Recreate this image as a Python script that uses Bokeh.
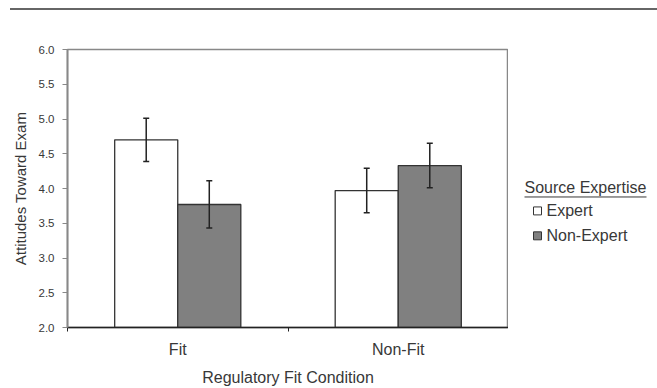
from bokeh.plotting import figure
from bokeh.models import (ColumnDataSource, Whisker, TeeHead, Div, FixedTicker, Range1d)
from bokeh.layouts import column, row
from bokeh.core.properties import value
from bokeh.embed import file_html
from bokeh.resources import INLINE

conditions = ["Fit", "Non-Fit"]
series_names = ["Expert", "Non-Expert"]
legend_title = "Source Expertise"
expert = [4.70, 3.97]
expert_err = [0.31, 0.32]
nonexpert = [3.77, 4.33]
nonexpert_err = [0.34, 0.32]
y_ticks = [2.0, 2.5, 3.0, 3.5, 4.0, 4.5, 5.0, 5.5, 6.0]

FONT = "Liberation Sans"
TXT = "#383838"
BW = 0.286
FILLS = ["white", "#808080"]
EDGE = "#333333"

p = figure(width=508, height=378, output_backend="svg", toolbar_location=None,
           x_range=Range1d(0, len(conditions)), y_range=Range1d(2.0, 6.0),
           min_border_left=67, min_border_right=0, min_border_top=39, min_border_bottom=60)
p.outline_line_color = "#888888"
p.outline_line_width = 1.5
p.xgrid.visible = False
p.ygrid.visible = False

xe = [i + 0.5 - BW / 2 for i in range(len(conditions))]
xn = [i + 0.5 + BW / 2 for i in range(len(conditions))]
src_e = ColumnDataSource(dict(x=xe, top=expert, lo=[v - e for v, e in zip(expert, expert_err)],
                              hi=[v + e for v, e in zip(expert, expert_err)]))
src_n = ColumnDataSource(dict(x=xn, top=nonexpert, lo=[v - e for v, e in zip(nonexpert, nonexpert_err)],
                              hi=[v + e for v, e in zip(nonexpert, nonexpert_err)]))

p.vbar(x="x", top="top", bottom=2.0, width=BW, source=src_e, fill_color=FILLS[0],
       line_color=EDGE, line_width=1.3)
p.vbar(x="x", top="top", bottom=2.0, width=BW, source=src_n, fill_color=FILLS[1],
       line_color=EDGE, line_width=1.3)

for s in (src_e, src_n):
    w = Whisker(source=s, base="x", lower="lo", upper="hi", line_color="#222222", line_width=1.5,
                level="overlay",
                upper_head=TeeHead(size=6, line_color="#222222", line_width=1.5),
                lower_head=TeeHead(size=6, line_color="#222222", line_width=1.5))
    p.add_layout(w)

xa = p.xaxis[0]
xa.ticker = FixedTicker(ticks=[i + 0.5 for i in range(len(conditions))],
                        minor_ticks=list(range(len(conditions) + 1)))
xa.major_label_overrides = {i + 0.5: c for i, c in enumerate(conditions)}
xa.major_tick_line_color = None
xa.major_tick_out = 4
xa.major_tick_in = 0
xa.minor_tick_out = 4
xa.minor_tick_in = 0
xa.minor_tick_line_color = "#222222"
xa.axis_line_color = "#222222"
xa.axis_line_width = 1.3
xa.major_label_standoff = 9
xa.axis_label = "Regulatory Fit Condition"
xa.axis_label_standoff = 8
xa.axis_label_text_font_style = "normal"

ya = p.yaxis[0]
ya.ticker = FixedTicker(ticks=y_ticks, minor_ticks=[])
ya.major_label_overrides = {t: f"{t:.1f}" for t in y_ticks}
ya.major_tick_out = 5
ya.major_tick_in = 0
ya.major_tick_line_color = "#888888"
ya.axis_line_color = "#888888"
ya.axis_line_width = 1.8
ya.major_label_standoff = 8
ya.axis_label = "Attitudes Toward Exam"
ya.axis_label_standoff = 7
ya.axis_label_text_font_style = "normal"

for ax in (xa, ya):
    ax.major_label_text_font = FONT
    ax.major_label_text_color = TXT
    ax.axis_label_text_font = FONT
    ax.axis_label_text_color = TXT
xa.axis_label_text_font_size = "16px"
ya.axis_label_text_font_size = "15px"
xa.major_label_text_font_size = "16px"
ya.major_label_text_font_size = "11.5px"

# legend panel: its own figure whose frame is aligned with the main frame;
# its ranges are expressed in page pixels
lg = figure(width=149, height=378, output_backend="svg", toolbar_location=None,
            x_range=Range1d(508, 657), y_range=Range1d(328, 49),
            min_border=0, outline_line_color=None)
lg.axis.visible = False
lg.grid.visible = False

lg.text(x=[524], y=[187.5], text=[legend_title], text_font=value(FONT), text_font_size="16px",
        text_color=TXT, text_baseline="middle", text_align="left")
lg.segment(x0=[524], y0=[197], x1=[646], y1=[197], line_color=TXT, line_width=1)
lg.rect(x=[537, 537], y=[211, 236], width=8, height=8, fill_color=FILLS,
        line_color=EDGE, line_width=1)
lg.text(x=[546, 546], y=[211, 236], text=series_names, text_font=value(FONT),
        text_font_size="16px", text_color=TXT, text_baseline="middle", text_align="left")

top_line = Div(width=647, height=2, margin=(8, 0, 0, 10),
               styles={"background-color": "#666666"})
layout = column(top_line, row(p, lg, spacing=0), spacing=0)

open("out.html", "w").write(file_html(layout, INLINE))
